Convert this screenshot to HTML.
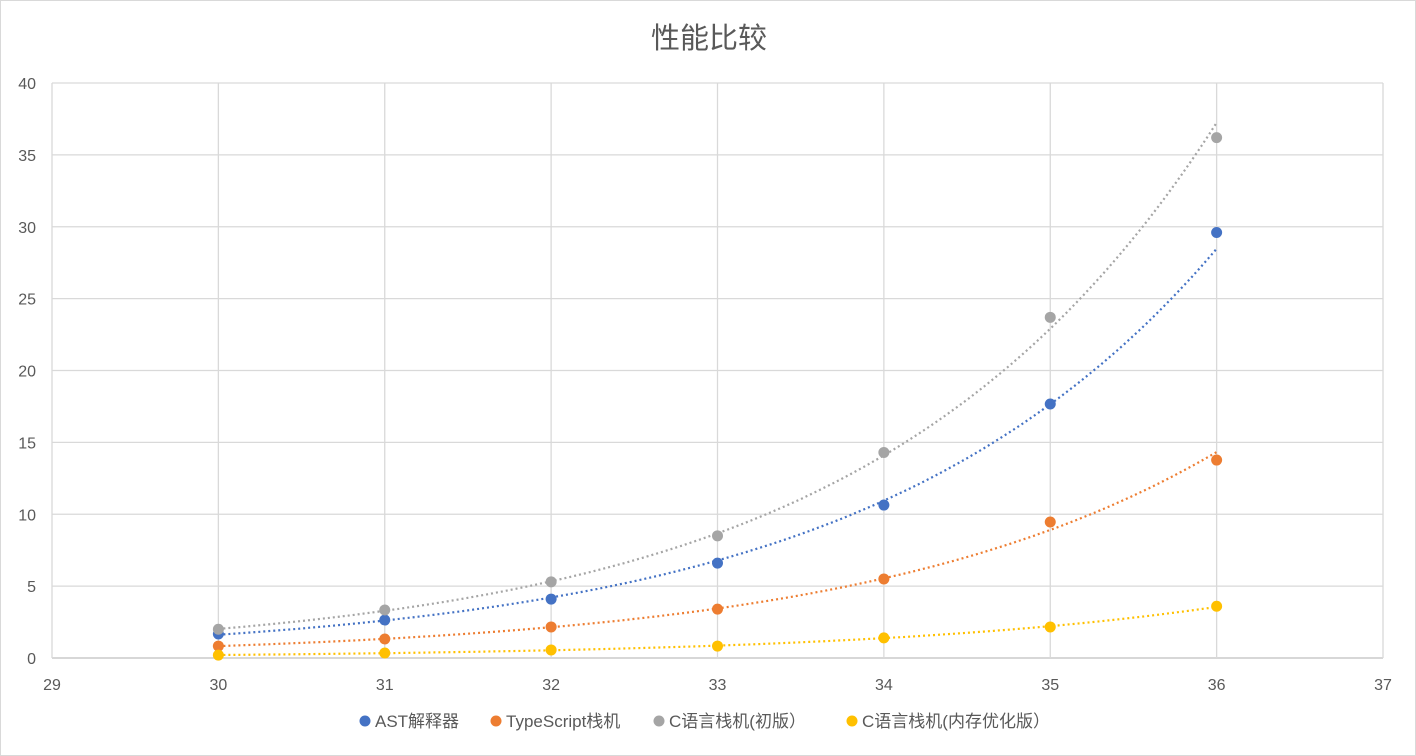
<!DOCTYPE html>
<html><head><meta charset="utf-8"><style>
html,body{margin:0;padding:0;background:#fff}
svg{display:block}
text{font-family:"Liberation Sans","Noto Sans CJK SC",sans-serif;fill:#595959}
</style></head><body>
<svg id="chart" width="1416" height="756" xmlns="http://www.w3.org/2000/svg">
<rect x="0.5" y="0.5" width="1415" height="755" fill="#fff" stroke="#d9d9d9"/>
<text x="709" y="48" font-size="29" text-anchor="middle">性能比较</text>
<g id="grid"></g><g id="trends"></g><g id="points"></g><g id="legend"></g>
</svg>
<script>
const xValues=[30,31,32,33,34,35,36];
const astValues=[1.67,2.64,4.1,6.6,10.64,17.67,29.6];
const tsValues=[0.83,1.32,2.16,3.4,5.5,9.46,13.77];
const cValues=[2.0,3.34,5.3,8.5,14.3,23.7,36.2];
const cOptValues=[0.2,0.35,0.56,0.83,1.4,2.16,3.6];
const seriesNames=["AST解释器","TypeScript栈机","C语言栈机(初版）","C语言栈机(内存优化版）"];
const xTicks=[29,30,31,32,33,34,35,36,37];
const yTicks=[0,5,10,15,20,25,30,35,40];
const colors=["#4472c4","#ed7d31","#a5a5a5","#ffc000"];
const NS="http://www.w3.org/2000/svg";
const X0=52,X1=1383,Y0=658,Y1=83;
const sx=v=>X0+(v-29)/(37-29)*(X1-X0);
const sy=v=>Y0-(v-0)/(40-0)*(Y0-Y1);
function mk(t,a,p){const e=document.createElementNS(NS,t);for(const k in a)e.setAttribute(k,a[k]);p.appendChild(e);return e;}
const grid=document.getElementById('grid');
yTicks.forEach(v=>{
 const l=mk('line',{x1:X0,x2:X1,y1:sy(v),y2:sy(v),stroke:v===0?'#bfbfbf':'#d9d9d9','stroke-width':1.3},grid);
 
 
 const t=mk('text',{x:X0-16,y:sy(v)+6,'font-size':16,'text-anchor':'end'},grid);t.textContent=v;
 
 
});
xTicks.forEach(v=>{
 const l=mk('line',{x1:sx(v),x2:sx(v),y1:Y1,y2:Y0,stroke:'#d9d9d9','stroke-width':1.3},grid);
 
 
 const t=mk('text',{x:sx(v),y:Y0+32,'font-size':16,'text-anchor':'middle'},grid);t.textContent=v;
 
 
});
const all=[astValues,tsValues,cValues,cOptValues];
const trends=document.getElementById('trends'),pts=document.getElementById('points');
all.forEach((ys,i)=>{
 const n=xValues.length;let sxx=0,sxl=0,sl=0,sx2=0;
 xValues.forEach((x,j)=>{const ly=Math.log(ys[j]);sxx+=x;sl+=ly;sxl+=x*ly;sx2+=x*x;});
 const b=(n*sxl-sxx*sl)/(n*sx2-sxx*sxx),a=(sl-b*sxx)/n;
 let d='';const xa=xValues[0],xb=xValues[n-1];
 for(let k=0;k<=120;k++){const x=xa+(xb-xa)*k/120;d+=(k?'L':'M')+sx(x).toFixed(1)+','+sy(Math.exp(a+b*x)).toFixed(1);}
 const p=mk('path',{d:d,fill:'none',stroke:colors[i],'stroke-width':2.2,'stroke-dasharray':'2 3'},trends);
 
 
 ys.forEach((y,j)=>{
  const c=mk('circle',{cx:sx(xValues[j]),cy:sy(y),r:5.5,fill:colors[i]},pts);
  
  
 });
});
const lg=document.getElementById('legend');
const lx=[365,496,659,852];
seriesNames.forEach((s,i)=>{
 const c=mk('circle',{cx:lx[i],cy:721,r:5.5,fill:colors[i]},lg);
 
 
 const t=mk('text',{x:lx[i]+10,y:727,'font-size':17},lg);t.textContent=s;
 
 
});
</script>
</body></html>
